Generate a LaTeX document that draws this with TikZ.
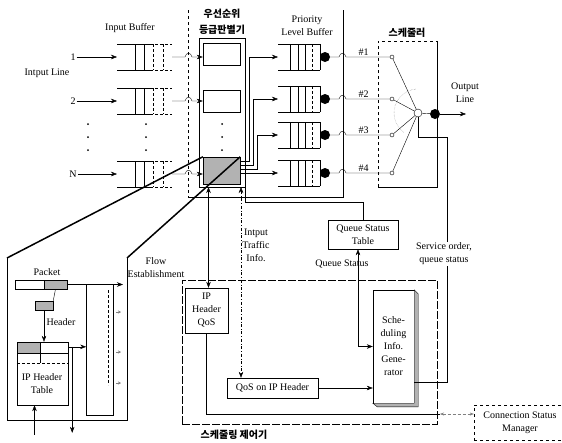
\documentclass[tikz,border=0pt]{standalone}
\usepackage{fontspec}
\setmainfont{Liberation Serif}
\newfontfamily\krfont{Noto Sans CJK KR}
\usetikzlibrary{arrows.meta,positioning,calc}

\begin{document}
\begin{tikzpicture}[x=1pt,y=-1pt,>={Stealth[length=6pt,width=4.5pt]},
  font=\fontsize{10}{13}\selectfont]
\tikzstyle{box}=[draw,inner sep=1pt,align=center]
\tikzstyle{lbl}=[inner sep=1pt,align=center]
\tikzstyle{kr}=[inner sep=1pt,align=center,font=\krfont\bfseries\fontsize{10}{16}\selectfont]
\tikzstyle{hatch}=[draw,fill=gray!60,inner sep=0pt]
\tikzstyle{bigdot}=[circle,fill,inner sep=0pt,minimum size=10pt]
\tikzstyle{port}=[circle,draw,fill=white,inner sep=0pt,minimum size=4pt]
\tikzstyle{dot}=[circle,fill,inner sep=0pt,minimum size=2pt]
\useasboundingbox (0,0) rectangle (562,442);

% headings
\node[lbl] (ibuflbl) at (130,28) {Input Buffer};
\node[kr] (clslbl) at (222,22) {우선순위\\등급판별기};
\node[lbl] (pbuflbl) at (307,26) {Priority\\Level Buffer};
\node[kr] (schlbl) at (407,33) {스케줄러};
\node[lbl] (inlbl) at (47,73) {Intput Line};

% classifier area
\draw[dashed] (188,10) -- (188,197);
\draw (188,197) -- (343,197) -- (343,10);
\node[box,minimum width=46pt,minimum height=149pt] (cls) at (222,112.5) {};
\node[box,minimum width=37pt,minimum height=22pt] (cls1) at (221.5,54) {};
\node[box,minimum width=37pt,minimum height=22pt] (cls2) at (221.5,101) {};
\node[hatch,minimum width=37pt,minimum height=27pt] (cls3) at (221.5,170.5) {};

% input lines and buffers
\foreach \yc/\n [count=\i] in {57/1,101/2,174/N}{
  \node[lbl] (in\i) at (73,\yc) {\n};
  \coordinate (ib\i) at (117,\yc);
  \coordinate (ob\i) at (172,\yc);
  \draw (117,\yc-13) -- (150,\yc-13) (117,\yc+13) -- (150,\yc+13)
        (135,\yc-13) -- (135,\yc+13) (144,\yc-13) -- (144,\yc+13);
  \draw[densely dashed] (150,\yc-13) -- (172,\yc-13) (150,\yc+13) -- (172,\yc+13)
        (153,\yc-13) -- (153,\yc+13) (163,\yc-13) -- (163,\yc+13);
  \draw[->] (in\i) -- (ib\i);
  \draw[->] (ob\i) -- (185,\yc) .. controls (186,\yc-5) and (191,\yc-5) .. (192,\yc) -- (cls\i.west |- ib\i);
}
\foreach \x in {88,146,222}
  \foreach \yy in {124,137,150}
    \node[dot] (d-\x-\yy) at (\x,\yy) {};

% priority level buffers
\foreach \yc [count=\i] in {57,99,135,173}{
  \coordinate (pb\i) at (278,\yc);
  \draw (278,\yc-13) -- (320,\yc-13) (278,\yc+13) -- (320,\yc+13)
        (290,\yc-13) -- (290,\yc+13) (298,\yc-13) -- (298,\yc+13)
        (305,\yc-13) -- (305,\yc+13) (320,\yc-13) -- (320,\yc+13);
  \draw[densely dashed] (312,\yc-13) -- (312,\yc+13);
  \node[bigdot] (pd\i) at (325,\yc) {};
  \node[port] (sp\i) at (392,\yc) {};
  \draw (pd\i) -- (339,\yc) .. controls (340,\yc-5) and (345,\yc-5) .. (346,\yc)
        -- (sp\i) node[lbl,pos=0.4,above] (num\i) {\#\i};
}
\draw[->] ([yshift=-4pt]cls3.north east) -- ++(9,0) |- (pb1);
\draw[->] ([yshift=-8pt]cls3.north east) -- ++(13,0) |- (pb2);
\draw[->] ([yshift=-12pt]cls3.north east) -- ++(17,0) |- (pb3);
\draw[->] (cls3.east |- pb4) -- (pb4);

% scheduler
\draw[dashed] (378,187) -- (378,41) -- (437,41);
\draw (437,41) -- (437,187) -- (378,187);
\node[circle,draw,fill=white,inner sep=0pt,minimum size=8pt] (sc) at (418,113) {};
\draw[gray,densely dotted] (sc.center) ++(95:24pt) arc[start angle=95,end angle=235,radius=24pt];
\foreach \i in {1,...,4} \draw (sp\i) -- (sc);
\node[bigdot] (od) at (435,114) {};
\draw (sc) -- (od);
\coordinate (outl) at (466,114);
\draw[->] (od) -- (outl);
\node[lbl] (outlbl) at (465,93) {Output\\Line};

% scheduling controller
\node[draw,dash pattern=on 8pt off 2pt,minimum width=255pt,minimum height=144pt] (ctrl) at (309.5,352) {};
\node[kr] (ctrllbl) at (234,435) {스케줄링 제어기};
\node[box,minimum width=70pt,minimum height=29pt,fill=white] (qst) at (363,234.5) {Queue Status\\Table};
\node[box,minimum width=43pt,minimum height=45pt] (iphq) at (206.5,310.5) {IP\\Header\\QoS};
\node[box,minimum width=91pt,minimum height=20pt] (qosip) at (272.5,388) {QoS on IP Header};
\node[box,minimum width=41pt,minimum height=113pt,fill=white] (gen) at (393.5,346.5) {Sche-\\duling\\Info.\\Gene-\\rator};
\draw[fill=gray!60] (gen.north east) -- ++(4,4) -- ++(0,113) -- ++(-41,0) -- (gen.south west) -- (gen.south east) -- cycle;
\node[box,dashed,minimum width=92pt,minimum height=35pt] (csm) at (520,422.5) {Connection Status\\Manager};

\coordinate (flowtop) at (208.5,187);
\coordinate (trtop) at (241,187);
\draw[<->] (flowtop) -- (flowtop |- iphq.north);
\draw[<->,dash dot] (trtop) -- (trtop |- qosip.north);
\node[lbl] (flowlbl) at (156,268) {Flow\\Establishment};
\node[lbl] (trlbl) at (256,245) {Intput\\Traffic\\Info.};
\draw[->] (qosip.east) -- (gen.west |- qosip.east);
\draw (cls.south east) -- ++(0,15) -| (qst.north);
\draw[<->] ([xshift=-5pt]qst.south) |- (gen.west);
\node[lbl] (qslbl) at (342,264) {Queue Status};
\coordinate (svc) at (447,137);
\draw (sc.south) |- (svc) |- ([yshift=-36pt]gen.east);
\node[lbl,fill=white] (svclbl) at (444,254) {Service order,\\queue status};
\coordinate (csl) at (440,414);
\draw (iphq.south) |- (csl);
\draw[<->,gray,densely dashed,>={Stealth[length=4pt,width=3pt]}] (csl) -- (csm.west |- csl);

% magnified view of the classifier
\coordinate (mag1) at (7,258);
\coordinate (mag2) at (127,258);
\draw[line width=1.5pt] (cls3.north west) -- (mag1);
\draw[line width=1.5pt] (cls3.north east) -- (mag2);
\draw (mag1) -- (7,420) -- (127,420) -- (mag2);
\node[lbl] (pktlbl) at (47,272) {Packet};
\node[box,minimum width=52pt,minimum height=9pt] (pkt) at (41,284.5) {};
\node[hatch,minimum width=23pt,minimum height=9pt] (pkh) at (55.5,284.5) {};
\node[hatch,minimum width=18pt,minimum height=9pt] (hdr) at (44,305.5) {};
\draw (pkh.south) -- (hdr.north east);
\node[lbl] (hdrlbl) at (61,322) {Header};
\node[box,minimum width=51pt,minimum height=63pt] (iptab) at (42.5,373.5) {};
\node[hatch,minimum width=23pt,minimum height=11pt,anchor=north west] (iph) at (iptab.north west) {};
\draw (iph.north east) -- ++(0,21) (iph.south east) -- (iph.south east -| iptab.east);
\draw[densely dashed] ([yshift=-21pt]iptab.north west) -- ([yshift=-21pt]iptab.north east);
\node[lbl] (tablbl) at (42,384) {IP Header\\Table};
\draw[->] (hdr.south) -- (hdr.south |- iptab.north);
\node[draw,minimum width=27pt,minimum height=131pt] (frm) at (99.5,349.5) {};
\draw[densely dashed] (108,290) -- (108,385);
\coordinate (pout) at (123,284.5);
\draw[->] (pkh.east) -- (pout);
\draw[->] ([yshift=-5pt]iptab.north east) -- ++(18,0);
\draw[->] ([xshift=4pt,yshift=-5pt]iptab.north east) -- ++(0,86);
\draw[<-] ([xshift=-8pt]iptab.south) -- ++(0,30);
\foreach \yy in {312,352,383}
  \draw[-{Stealth[length=3pt,width=3pt]},gray] (116,\yy) -- (121,\yy);
\end{tikzpicture}
\end{document}
